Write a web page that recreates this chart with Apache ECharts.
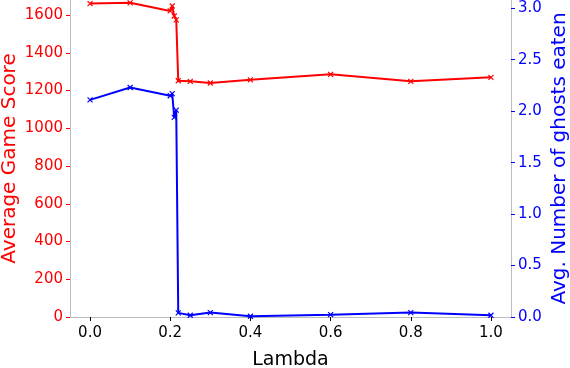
<!DOCTYPE html>
<html>
<head>
<meta charset="utf-8">
<script src="https://cdn.jsdelivr.net/npm/echarts@6/dist/echarts.min.js"></script>
<style>
  html, body { margin: 0; padding: 0; background: #fff; }
  #main { width: 570px; height: 368px; }
</style>
</head>
<body>
<div id="main"></div>
<script>
// lambda values and the two measured series
const lambdas = [0, 0.1, 0.2, 0.205, 0.21, 0.215, 0.22, 0.25, 0.3, 0.4, 0.6, 0.8, 1.0];
const avgScore = [1661, 1665, 1622, 1648, 1595, 1575, 1252, 1249, 1240, 1257, 1286, 1249, 1270];
const avgGhosts = [2.11, 2.23, 2.15, 2.17, 1.94, 2.01, 0.04, 0.017, 0.043, 0.007, 0.023, 0.043, 0.017];

// tick labels
const xTicks = [0, 0.2, 0.4, 0.6, 0.8, 1.0];
const scoreTicks = [0, 200, 400, 600, 800, 1000, 1200, 1400, 1600];
const ghostTicks = [0, 0.5, 1.0, 1.5, 2.0, 2.5, 3.0];

const RED = "#ff0000";
const BLUE = "#0000ff";
const FONT = "DejaVu Sans";
const cross = "path://M0,0L10,10M10,0L0,10";

const chart = echarts.init(document.getElementById("main"), null, { renderer: "canvas" });

const spine = { show: true, onZero: false, lineStyle: { color: "#bdbdbd", width: 1 } };

chart.setOption({
  animation: false,
  grid: { left: 70, right: 59, top: 0, bottom: 51, containLabel: false, outerBoundsMode: "none" },
  xAxis: {
    type: "value",
    min: -0.05,
    max: 1.05,
    name: "Lambda",
    nameLocation: "middle",
    nameGap: 34,
    nameMoveOverlap: false,
    nameTextStyle: { fontFamily: FONT, fontSize: 19, color: "#000", verticalAlign: "top" },
    axisLine: spine,
    axisTick: { show: true, length: 4, lineStyle: { color: "#000" }, customValues: xTicks },
    axisLabel: {
      fontFamily: FONT, fontSize: 15, color: "#000", margin: 9,
      customValues: xTicks,
      formatter: v => v.toFixed(1)
    },
    splitLine: { show: false }
  },
  yAxis: [
    {
      type: "value",
      position: "left",
      min: 0,
      max: 1680,
      name: "Average Game Score",
      nameLocation: "middle",
      nameGap: 50,
      nameMoveOverlap: false,
      nameTextStyle: { fontFamily: FONT, fontSize: 20, color: RED },
      axisLine: spine,
      axisTick: { show: true, length: 4, lineStyle: { color: RED }, customValues: scoreTicks },
      axisLabel: {
        fontFamily: FONT, fontSize: 15, color: RED, margin: 7,
        customValues: scoreTicks,
        formatter: v => String(v)
      },
      splitLine: { show: false }
    },
    {
      type: "value",
      position: "right",
      min: 0,
      max: 3.08,
      name: "Avg. Number of ghosts eaten",
      nameLocation: "middle",
      nameGap: 39,
      nameMoveOverlap: false,
      nameTextStyle: { fontFamily: FONT, fontSize: 20, color: BLUE },
      axisLine: spine,
      axisTick: { show: true, length: 4, lineStyle: { color: BLUE }, customValues: ghostTicks },
      axisLabel: {
        fontFamily: FONT, fontSize: 15, color: BLUE, margin: 7,
        customValues: ghostTicks,
        formatter: v => v.toFixed(1)
      },
      splitLine: { show: false }
    }
  ],
  series: [
    {
      name: "score",
      type: "line",
      yAxisIndex: 0,
      data: lambdas.map((x, i) => [x, avgScore[i]]),
      symbol: cross,
      symbolSize: 5,
      lineStyle: { color: RED, width: 2 },
      itemStyle: { color: RED, borderColor: RED, borderWidth: 1.2 },
      z: 3
    },
    {
      name: "ghosts",
      type: "line",
      yAxisIndex: 1,
      data: lambdas.map((x, i) => [x, avgGhosts[i]]),
      symbol: cross,
      symbolSize: 5,
      lineStyle: { color: BLUE, width: 2 },
      itemStyle: { color: BLUE, borderColor: BLUE, borderWidth: 1.2 },
      z: 2
    }
  ]
});
</script>
</body>
</html>
